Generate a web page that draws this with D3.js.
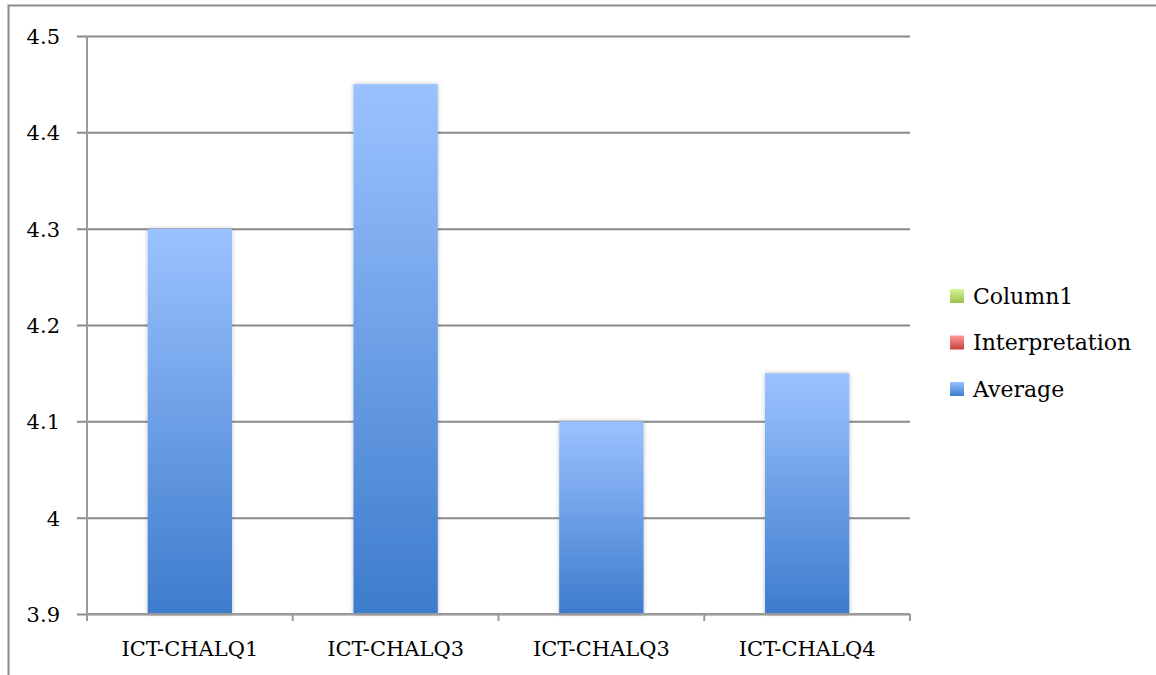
<!DOCTYPE html>
<html>
<head>
<meta charset="utf-8">
<script src="https://cdn.jsdelivr.net/npm/d3@7"></script>
<style>
  body { margin: 0; background: #fff; }
</style>
</head>
<body>
<div id="chart"></div>
<script>
// chart data
const categories = ['ICT-CHALQ1', 'ICT-CHALQ3', 'ICT-CHALQ3', 'ICT-CHALQ4'];
const averageValues = [4.3, 4.45, 4.1, 4.15];
const yTicks = [3.9, 4, 4.1, 4.2, 4.3, 4.4, 4.5];
const legendNames = ['Column1', 'Interpretation', 'Average'];

const FONT = '"DejaVu Serif", "Liberation Serif", serif';

function drawChart() {
  const width = 1156, height = 675;
  const margin = { top: 36, left: 87, bottom: 61, right: 246 };
  const chartWidth = width - margin.left - margin.right;
  const chartHeight = height - margin.top - margin.bottom;

  const svg = d3.select('#chart').append('svg')
      .attr('width', width).attr('height', height);

  const defs = svg.append('defs');
  // gradients for the fills, light on top, dark at the bottom
  const fills = [
    { id: 'gGreen', top: '#d7f59a', bottom: '#9bc14c' },
    { id: 'gRed', top: '#ff9a98', bottom: '#c9403c' },
    { id: 'gBlue', top: '#9bc2ff', bottom: '#3d7ccc' }
  ];
  fills.forEach(function(f) {
    const g = defs.append('linearGradient').attr('id', f.id)
        .attr('x1', 0).attr('y1', 0).attr('x2', 0).attr('y2', 1);
    g.append('stop').attr('offset', '0%').attr('stop-color', f.top);
    g.append('stop').attr('offset', '100%').attr('stop-color', f.bottom);
  });
  const shadow = defs.append('filter').attr('id', 'shadow')
      .attr('x', '-10%').attr('y', '-5%').attr('width', '120%').attr('height', '110%');
  shadow.append('feDropShadow').attr('dx', 0).attr('dy', 0).attr('stdDeviation', 2)
      .attr('flood-color', '#000').attr('flood-opacity', 0.25);

  // outer frame (only top and left edges are visible)
  svg.append('rect')
      .attr('x', 8.5).attr('y', 5.5).attr('width', 1300).attr('height', 800)
      .attr('fill', 'none').attr('stroke', '#8c8c8c').attr('stroke-width', 2);

  const chartLayer = svg.append('g')
      .attr('transform', 'translate(' + [margin.left, margin.top] + ')');

  const x = d3.scaleBand()
      .domain(d3.range(categories.length))
      .range([0, chartWidth])
      .paddingInner(0.59).paddingOuter(0.295);

  const y = d3.scaleLinear().domain([3.9, 4.5]).range([chartHeight, 0]);

  // gridlines + y axis
  const yAxis = d3.axisLeft(y).tickValues(yTicks)
      .tickSize(-chartWidth - 10).tickPadding(16)
      .tickFormat(function(d) { return d3.format('')(+d.toFixed(1)); });
  const yG = chartLayer.append('g').attr('transform', 'translate(-10,0)').call(yAxis)
      .attr('font-family', FONT);
  yG.select('.domain').remove();
  yG.selectAll('.tick line').attr('stroke', '#8a8a8a').attr('stroke-width', 2)
      .attr('x1', 0).attr('x2', chartWidth + 10);
  yG.selectAll('.tick text').attr('font-size', 21).attr('x', -17).attr('dy', '0.36em')
      .attr('fill', '#000');

  // vertical axis line
  chartLayer.append('line')
      .attr('x1', 0).attr('x2', 0).attr('y1', 0).attr('y2', chartHeight + 7)
      .attr('stroke', '#9a9a9a').attr('stroke-width', 2);

  // bars
  chartLayer.selectAll('.bar').data(averageValues).enter()
      .append('rect').attr('class', 'bar')
      .attr('x', function(d, i) { return x(i); })
      .attr('width', x.bandwidth())
      .attr('y', function(d) { return y(d); })
      .attr('height', function(d) { return chartHeight - y(d); })
      .attr('fill', 'url(#gBlue)')
      .attr('filter', 'url(#shadow)');

  // x axis
  chartLayer.append('line')
      .attr('x1', 0).attr('x2', chartWidth).attr('y1', chartHeight).attr('y2', chartHeight)
      .attr('stroke', '#9a9a9a').attr('stroke-width', 2);
  chartLayer.selectAll('.xtick').data(d3.range(categories.length + 1)).enter()
      .append('line').attr('class', 'xtick')
      .attr('x1', function(d) { return d * chartWidth / categories.length; })
      .attr('x2', function(d) { return d * chartWidth / categories.length; })
      .attr('y1', chartHeight).attr('y2', chartHeight + 7)
      .attr('stroke', '#9a9a9a').attr('stroke-width', 2);
  chartLayer.selectAll('.xlabel').data(categories).enter()
      .append('text').attr('class', 'xlabel')
      .attr('x', function(d, i) { return x(i) + x.bandwidth() / 2; })
      .attr('y', chartHeight + 42)
      .attr('text-anchor', 'middle')
      .attr('font-family', FONT).attr('font-size', 21)
      .text(function(d) { return d; });

  // legend
  const legend = svg.append('g').attr('transform', 'translate(950,296)');
  const item = legend.selectAll('g').data(legendNames).enter().append('g')
      .attr('transform', function(d, i) { return 'translate(0,' + (i * 46.5) + ')'; });
  item.append('rect').attr('x', 0).attr('y', -7).attr('width', 14).attr('height', 14)
      .attr('fill', function(d, i) { return 'url(#' + fills[i].id + ')'; });
  item.append('text').attr('x', 23).attr('dy', '0.36em')
      .attr('font-family', FONT).attr('font-size', 22)
      .text(function(d) { return d; });
}

drawChart();
</script>
</body>
</html>
